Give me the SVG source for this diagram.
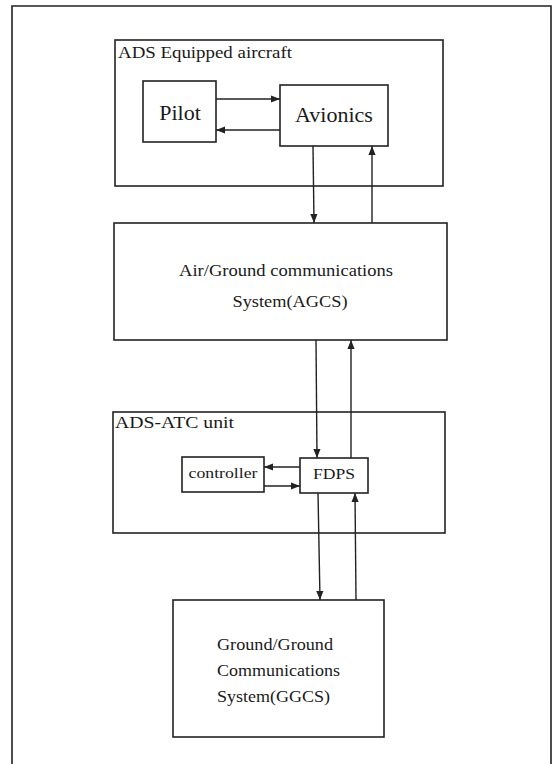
<svg xmlns="http://www.w3.org/2000/svg" width="555" height="764" viewBox="0 0 555 764">
<style>
.box{fill:none;stroke:#222;stroke-width:1.6}
.ln{fill:none;stroke:#222;stroke-width:1.4}
.t{font-family:"Liberation Serif",serif;fill:#1a1a1a}
</style>
<defs>
<marker id="ah" viewBox="0 0 10 10" refX="10" refY="5" markerWidth="9" markerHeight="9" markerUnits="userSpaceOnUse" orient="auto">
<path d="M0,1 L10,5 L0,9 Z" fill="#222"/>
</marker>
</defs>
<rect width="555" height="764" fill="#fff"/>
<path class="box" d="M12,764 L12,6 L551,6 L551,764"/>

<g id="aircraft">
<rect class="box" x="115" y="40" width="328" height="146"/>
<text class="t" x="118" y="58" font-size="16" textLength="174" lengthAdjust="spacingAndGlyphs">ADS Equipped aircraft</text>
</g>
<g id="pilot">
<rect class="box" x="143" y="81" width="73" height="61"/>
<text class="t" x="180" y="120" font-size="22" text-anchor="middle">Pilot</text>
</g>
<g id="avionics">
<rect class="box" x="280" y="85" width="108" height="61"/>
<text class="t" x="334" y="122" font-size="22" text-anchor="middle">Avionics</text>
</g>
<g id="agcs">
<rect class="box" x="114" y="223" width="333" height="117"/>
<text class="t" x="286" y="276" font-size="17" text-anchor="middle" textLength="214" lengthAdjust="spacingAndGlyphs">Air/Ground communications</text>
<text class="t" x="290" y="307" font-size="17" text-anchor="middle" textLength="115" lengthAdjust="spacingAndGlyphs">System(AGCS)</text>
</g>
<g id="atc">
<rect class="box" x="113" y="412" width="332" height="121"/>
<text class="t" x="115" y="428" font-size="16" textLength="119" lengthAdjust="spacingAndGlyphs">ADS-ATC unit</text>
</g>
<g id="controller">
<rect class="box" x="182" y="457" width="82" height="35"/>
<text class="t" x="223" y="478" font-size="15" text-anchor="middle" textLength="69" lengthAdjust="spacingAndGlyphs">controller</text>
</g>
<g id="fdps">
<rect class="box" x="300" y="458" width="68" height="35"/>
<text class="t" x="334" y="479" font-size="15" text-anchor="middle" textLength="42" lengthAdjust="spacingAndGlyphs">FDPS</text>
</g>
<g id="ggcs">
<rect class="box" x="173" y="600" width="211" height="137"/>
<text class="t" x="217" y="650" font-size="17" textLength="116" lengthAdjust="spacingAndGlyphs">Ground/Ground</text>
<text class="t" x="217" y="676" font-size="17" textLength="123" lengthAdjust="spacingAndGlyphs">Communications</text>
<text class="t" x="217" y="702" font-size="17" textLength="113" lengthAdjust="spacingAndGlyphs">System(GGCS)</text>
</g>

<g id="connectors">
<line class="ln" x1="216" y1="99" x2="280" y2="99" marker-end="url(#ah)"/>
<line class="ln" x1="280" y1="130" x2="216" y2="130" marker-end="url(#ah)"/>
<line class="ln" x1="313" y1="146" x2="314" y2="223" marker-end="url(#ah)"/>
<line class="ln" x1="372" y1="223" x2="372" y2="146" marker-end="url(#ah)"/>
<line class="ln" x1="316" y1="340" x2="317" y2="458" marker-end="url(#ah)"/>
<line class="ln" x1="351" y1="458" x2="351" y2="340" marker-end="url(#ah)"/>
<line class="ln" x1="300" y1="467" x2="264" y2="467" marker-end="url(#ah)"/>
<line class="ln" x1="264" y1="486" x2="300" y2="486" marker-end="url(#ah)"/>
<line class="ln" x1="318" y1="493" x2="320" y2="600" marker-end="url(#ah)"/>
<line class="ln" x1="356" y1="600" x2="355" y2="493" marker-end="url(#ah)"/>
</g>
</svg>
